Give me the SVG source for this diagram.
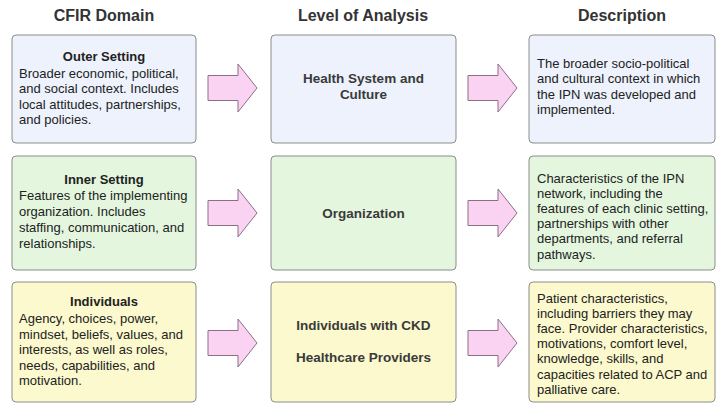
<svg xmlns="http://www.w3.org/2000/svg" width="721" height="409" viewBox="0 0 721 409">
<style>
.hd{font-family:"Liberation Sans",Arial,sans-serif;font-size:16px;font-weight:bold;fill:#333;text-anchor:middle}
.t{font-family:"Liberation Sans",Arial,sans-serif;font-size:13px;fill:#222}
.tb{font-family:"Liberation Sans",Arial,sans-serif;font-size:13px;font-weight:bold;fill:#222;text-anchor:middle}
.mb{font-family:"Liberation Sans",Arial,sans-serif;font-size:13.5px;font-weight:bold;fill:#3a3a3a;text-anchor:middle}
.box{stroke:#8c8c8c;stroke-width:1}
.blue{fill:#edf2fc}
.green{fill:#e4f6de}
.yellow{fill:#fbf9cd}
.arr{fill:#fad2f2;stroke:#8a7085;stroke-width:1;stroke-linejoin:round}
</style>
<defs>
<path id="arrow" d="M0,-12.5 H30 V-24 L49,0 L30,24 V12.5 H0 Z"/>
</defs>
<g id="headers">
<text class="hd" x="104" y="21">CFIR Domain</text>
<text class="hd" x="363" y="21">Level of Analysis</text>
<text class="hd" x="622" y="21">Description</text>
</g>
<g id="connectors">
<use href="#arrow" class="arr" x="208" y="88"/>
<use href="#arrow" class="arr" x="468" y="88"/>
<use href="#arrow" class="arr" x="208" y="213"/>
<use href="#arrow" class="arr" x="468" y="213"/>
<use href="#arrow" class="arr" x="208" y="343"/>
<use href="#arrow" class="arr" x="468" y="343"/>
</g>
<g id="outer-setting">
<rect class="box blue" x="12" y="35" width="184" height="108" rx="4"/>
<text class="tb" x="104" y="61">Outer Setting</text>
<text class="t" x="19" y="77.5">Broader economic, political,</text>
<text class="t" x="19" y="93">and social context. Includes</text>
<text class="t" x="19" y="108.5">local attitudes, partnerships,</text>
<text class="t" x="19" y="124">and policies.</text>
</g>
<g id="health-system">
<rect class="box blue" x="271" y="35" width="185" height="108" rx="4"/>
<text class="mb" x="363.5" y="83">Health System and</text>
<text class="mb" x="363.5" y="99">Culture</text>
</g>
<g id="desc-outer">
<rect class="box blue" x="529" y="35" width="186" height="108" rx="4"/>
<text class="t" x="537" y="67.5">The broader socio-political</text>
<text class="t" x="537" y="83">and cultural context in which</text>
<text class="t" x="537" y="98.5">the IPN was developed and</text>
<text class="t" x="537" y="114">implemented.</text>
</g>
<g id="inner-setting">
<rect class="box green" x="12" y="156" width="184" height="114" rx="4"/>
<text class="tb" x="104" y="183.5">Inner Setting</text>
<text class="t" x="19" y="200">Features of the implementing</text>
<text class="t" x="19" y="216">organization. Includes</text>
<text class="t" x="19" y="232">staffing, communication, and</text>
<text class="t" x="19" y="247.5">relationships.</text>
</g>
<g id="organization">
<rect class="box green" x="271" y="156" width="185" height="114" rx="4"/>
<text class="mb" x="363.5" y="218">Organization</text>
</g>
<g id="desc-inner">
<rect class="box green" x="529" y="156" width="186" height="114" rx="4"/>
<text class="t" x="537" y="182.5">Characteristics of the IPN</text>
<text class="t" x="537" y="197.7">network, including the</text>
<text class="t" x="537" y="212.9">features of each clinic setting,</text>
<text class="t" x="537" y="228.1">partnerships with other</text>
<text class="t" x="537" y="243.3">departments, and referral</text>
<text class="t" x="537" y="258.5">pathways.</text>
</g>
<g id="individuals">
<rect class="box yellow" x="12" y="282" width="184" height="120" rx="4"/>
<text class="tb" x="104" y="305.5">Individuals</text>
<text class="t" x="19" y="322.5">Agency, choices, power,</text>
<text class="t" x="19" y="338.5">mindset, beliefs, values, and</text>
<text class="t" x="19" y="354">interests, as well as roles,</text>
<text class="t" x="19" y="369.5">needs, capabilities, and</text>
<text class="t" x="19" y="385">motivation.</text>
</g>
<g id="individuals-ckd">
<rect class="box yellow" x="271" y="282" width="185" height="120" rx="4"/>
<text class="mb" x="363.5" y="330">Individuals with CKD</text>
<text class="mb" x="363.5" y="362">Healthcare Providers</text>
</g>
<g id="desc-individuals">
<rect class="box yellow" x="529" y="282" width="186" height="120" rx="4"/>
<text class="t" x="537" y="302.5">Patient characteristics,</text>
<text class="t" x="537" y="317.7">including barriers they may</text>
<text class="t" x="537" y="332.9">face. Provider characteristics,</text>
<text class="t" x="537" y="348.1">motivations, comfort level,</text>
<text class="t" x="537" y="363.3">knowledge, skills, and</text>
<text class="t" x="537" y="378.5">capacities related to ACP and</text>
<text class="t" x="537" y="393.7">palliative care.</text>
</g>
</svg>
